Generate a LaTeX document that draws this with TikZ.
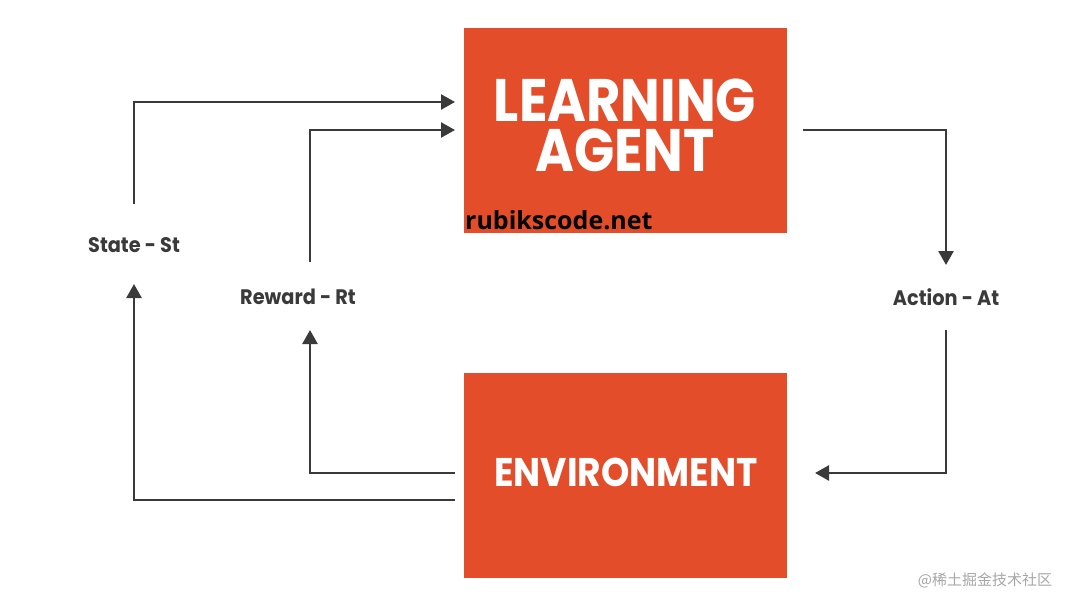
\documentclass[tikz,border=0pt]{standalone}
\usepackage{fontspec}
\setmainfont{Poppins}
\newfontfamily\titlefont[FakeStretch=0.88]{Poppins}
\newfontfamily\envfont[FakeStretch=0.9]{Poppins}
\newfontfamily\labfont[FakeStretch=0.92]{Poppins}
\newfontfamily\netfont{Open Sans}
\newfontfamily\cjk{Noto Sans CJK SC}
\usetikzlibrary{arrows.meta}
\definecolor{boxc}{HTML}{E44D2A}
\definecolor{linec}{HTML}{3A3A3A}
\tikzset{
  box/.style={fill=boxc,draw=none,minimum width=323pt,minimum height=205pt,inner sep=0},
  title/.style={text=white,align=center,inner sep=0},
  conn/.style={draw=linec,line width=2.6pt,-{Triangle[length=14pt,width=15pt]}},
  lab/.style={text=linec,font=\labfont\bfseries\fontsize{21}{21}\selectfont}
}
\begin{document}
\begin{tikzpicture}[x=1pt,y=-1pt]
\useasboundingbox (0,0) rectangle (1080,607);
\node[box] (agent) at (625.5,130.5) {};
\node[title,font=\titlefont\bfseries\fontsize{60}{50}\selectfont] (agt1) at (625,100) {LEARNING};
\node[title,font=\titlefont\bfseries\fontsize{60}{50}\selectfont] (agt2) at (625,150) {AGENT};
\node[box] (env) at (625.5,475.5) {};
\node[title,font=\envfont\bfseries\fontsize{40}{40}\selectfont] (envt) at (626,472) {ENVIRONMENT};
\node[anchor=west,font=\netfont\bfseries\fontsize{25}{25}\selectfont,inner sep=0] (net) at (465,220) {rubikscode.net};
\node[lab] (state) at (134,245) {State - St};
\node[lab] (reward) at (298,297) {Reward - Rt};
\node[lab] (action) at (946,297) {Action - At};
\coordinate (s1) at (455,500); \coordinate (s2) at (134,500); \coordinate (s3) at (134,284);
\coordinate (s4) at (134,204); \coordinate (s5) at (134,102); \coordinate (s6) at (455,102);
\coordinate (r1) at (455,473); \coordinate (r2) at (310,473); \coordinate (r3) at (310,330);
\coordinate (r4) at (310,262); \coordinate (r5) at (310,130); \coordinate (r6) at (455,130);
\coordinate (a1) at (803,130); \coordinate (a2) at (946,130); \coordinate (a3) at (946,265);
\coordinate (a4) at (946,330); \coordinate (a5) at (946,473); \coordinate (a6) at (815,473);
\draw[conn] (s1) -- (s2) -- (s3);
\draw[conn] (s4) -- (s5) -- (s6);
\draw[conn] (r1) -- (r2) -- (r3);
\draw[conn] (r4) -- (r5) -- (r6);
\draw[conn] (a1) -- (a2) -- (a3);
\draw[conn] (a4) -- (a5) -- (a6);
\node[text=gray!70,font=\cjk\fontsize{15}{15}\selectfont] (wm) at (985,580) {@稀土掘金技术社区};
\end{tikzpicture}
\end{document}
